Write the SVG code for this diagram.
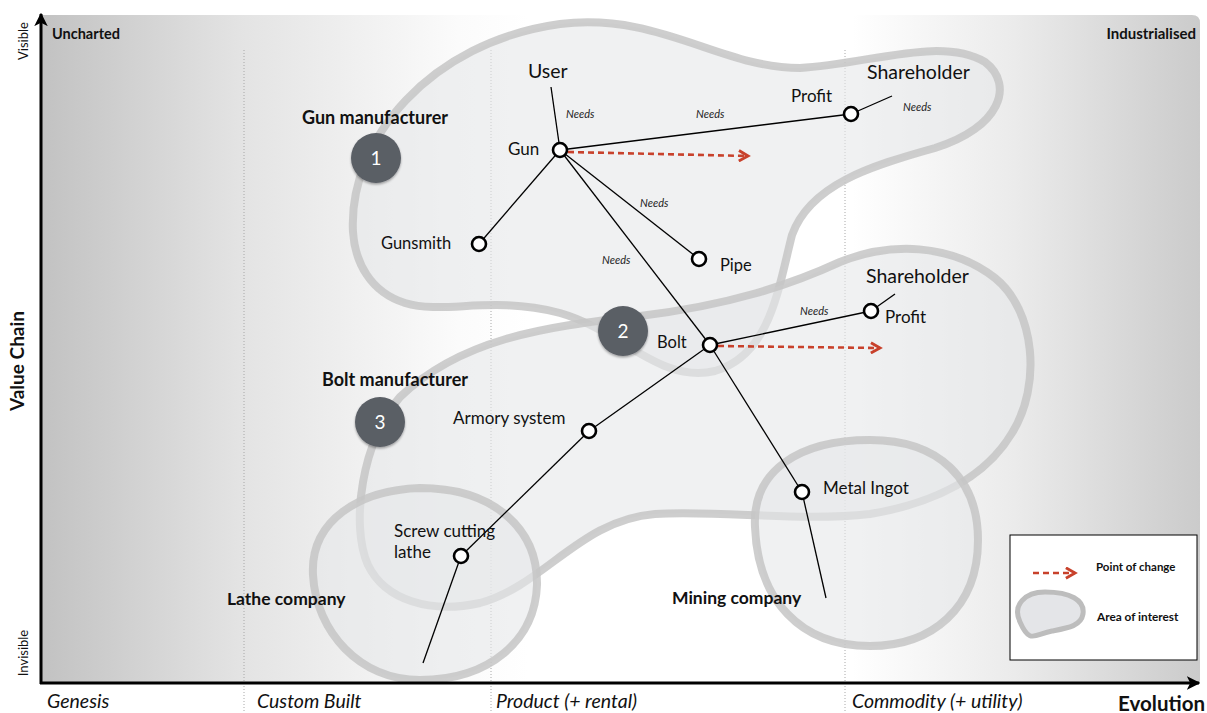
<svg xmlns="http://www.w3.org/2000/svg" width="1207" height="713" viewBox="0 0 1207 713">
<defs>
<linearGradient id="bg" x1="41" y1="0" x2="1200" y2="0" gradientUnits="userSpaceOnUse">
<stop offset="0" stop-color="#c2c2c2"/>
<stop offset="0.17" stop-color="#e3e3e3"/>
<stop offset="0.36" stop-color="#fbfbfb"/>
<stop offset="0.42" stop-color="#ffffff"/>
<stop offset="0.70" stop-color="#ffffff"/>
<stop offset="0.84" stop-color="#ebebeb"/>
<stop offset="1" stop-color="#cbcbcb"/>
</linearGradient>
<marker id="redhead" viewBox="0 0 10 10" refX="8" refY="5" markerWidth="5" markerHeight="5" orient="auto" markerUnits="strokeWidth">
<path d="M1,1 L8,5 L1,9" fill="none" stroke="#c8412b" stroke-width="2.2"/>
</marker>
<marker id="axhead" viewBox="0 0 10 10" refX="9" refY="5" markerWidth="4.5" markerHeight="4.5" orient="auto" markerUnits="strokeWidth">
<path d="M0,0 L10,5 L0,10 L2.5,5 Z" fill="#000"/>
</marker>
<filter id="sh" x="-30%" y="-30%" width="160%" height="160%">
<feDropShadow dx="0" dy="1.5" stdDeviation="1.2" flood-color="#000" flood-opacity="0.35"/>
</filter>
</defs>
<style>
.blob{fill:#e6e7ea;fill-opacity:0.6;stroke:#c6c6c6;stroke-opacity:0.85;stroke-width:8}
.dot{stroke:#a8a8a8;stroke-width:1;stroke-dasharray:1 2}
.ln{stroke:#000;stroke-width:1.3;fill:none}
.nd{fill:#fff;stroke:#000;stroke-width:2.6}
.chg{stroke:#c8412b;stroke-width:2.6;stroke-dasharray:6 4;fill:none}
.t{font-family:Lato,"Liberation Sans",sans-serif;fill:#111}
.b{font-family:Lato,"Liberation Sans",sans-serif;font-weight:bold;fill:#111}
.n{font-family:Lato,"Liberation Sans",sans-serif;font-style:italic;font-size:11px;fill:#222}
.ax{font-family:Lato,"Liberation Sans",sans-serif;font-style:italic;font-size:19.5px;fill:#111}
.badge{fill:#5a5e65;filter:url(#sh)}
.bt{font-family:Lato,"Liberation Sans",sans-serif;font-size:19px;fill:#fff;text-anchor:middle}
</style>

<g id="background">
<path d="M41,15 H1192 Q1200,15 1200,23 V683 H41 Z" fill="url(#bg)"/>
<line class="dot" x1="244" y1="50" x2="244" y2="713"/>
<line class="dot" x1="491" y1="50" x2="491" y2="713"/>
<line class="dot" x1="845" y1="50" x2="845" y2="713"/>
</g>

<g id="areas">
<path id="area-gun" class="blob" d="M353,232 C348,140 430,42 560,24 C660,12 720,68 800,68 C870,64 940,36 985,62 C1015,85 1000,128 935,148 C870,166 810,185 792,235 C778,290 770,355 715,371 C660,384 620,330 560,313 C490,295 445,315 405,303 C370,292 355,262 353,232 Z"/>
<path id="area-bolt" class="blob" d="M400,397 C460,340 540,327 640,316 C730,305 790,285 840,262 C890,242 950,243 995,278 C1035,310 1042,385 1012,433 C985,478 935,503 870,514 C800,522 720,510 655,514 C580,520 545,585 480,603 C430,614 385,600 368,565 C350,525 362,440 400,397 Z"/>
<path id="area-lathe" class="blob" d="M313,575 C310,520 360,490 420,488 C495,488 538,530 537,585 C535,640 490,680 420,680 C360,680 316,632 313,575 Z"/>
<path id="area-mining" class="blob" d="M755,527 C752,470 800,440 870,440 C940,440 978,480 978,540 C978,608 932,646 870,646 C800,646 758,600 755,527 Z"/>
</g>

<g id="axes">
<line x1="41" y1="684" x2="41" y2="14" stroke="#000" stroke-width="3" marker-end="url(#axhead)"/>
<line x1="40" y1="683" x2="1199" y2="683" stroke="#000" stroke-width="3" marker-end="url(#axhead)"/>
<text class="b" x="52" y="39" font-size="14.5">Uncharted</text>
<text class="b" x="1196" y="39" font-size="15" text-anchor="end">Industrialised</text>
<text class="t" font-size="13" transform="translate(28,41) rotate(-90)" text-anchor="middle">Visible</text>
<text class="t" font-size="13" transform="translate(28,653) rotate(-90)" text-anchor="middle">Invisible</text>
<text class="b" font-size="19" transform="translate(24,361) rotate(-90)" text-anchor="middle">Value Chain</text>
<text class="ax" x="47" y="708" font-size="18.5">Genesis</text>
<text class="ax" x="257" y="708" font-size="19">Custom Built</text>
<text class="ax" x="496" y="708">Product (+ rental)</text>
<text class="ax" x="852" y="708">Commodity (+ utility)</text>
<text class="b" x="1205" y="711" font-size="20.5" text-anchor="end">Evolution</text>
</g>

<g id="connectors">
<line class="ln" x1="551" y1="87" x2="560" y2="150"/>
<line class="ln" x1="560" y1="150" x2="851" y2="114"/>
<line class="ln" x1="851" y1="114" x2="892" y2="96"/>
<line class="ln" x1="560" y1="150" x2="479" y2="244"/>
<line class="ln" x1="560" y1="150" x2="699" y2="259"/>
<line class="ln" x1="560" y1="150" x2="710" y2="345"/>
<line class="ln" x1="710" y1="345" x2="871" y2="311"/>
<line class="ln" x1="871" y1="311" x2="895" y2="294"/>
<line class="ln" x1="710" y1="345" x2="589" y2="431"/>
<line class="ln" x1="589" y1="431" x2="461" y2="556"/>
<line class="ln" x1="461" y1="556" x2="423" y2="663"/>
<line class="ln" x1="710" y1="345" x2="802" y2="492"/>
<line class="ln" x1="802" y1="492" x2="826" y2="598"/>
<line class="chg" x1="568" y1="152" x2="748" y2="156" marker-end="url(#redhead)"/>
<line class="chg" x1="718" y1="346" x2="880" y2="348" marker-end="url(#redhead)"/>
<text class="n" x="566" y="118">Needs</text>
<text class="n" x="696" y="118">Needs</text>
<text class="n" x="903" y="111">Needs</text>
<text class="n" x="640" y="207">Needs</text>
<text class="n" x="602" y="264">Needs</text>
<text class="n" x="800" y="315">Needs</text>
</g>

<g id="labels">
<text class="b" x="302" y="124" font-size="18">Gun manufacturer</text>
<text class="b" x="322" y="386" font-size="18">Bolt manufacturer</text>
<text class="b" x="227" y="605" font-size="17.5">Lathe company</text>
<text class="b" x="672" y="604" font-size="17.5">Mining company</text>
</g>

<g id="badge-1"><circle class="badge" cx="376" cy="158" r="25"/><text class="bt" x="376" y="165">1</text></g>
<g id="badge-2"><circle class="badge" cx="623" cy="331" r="25"/><text class="bt" x="623" y="338">2</text></g>
<g id="badge-3"><circle class="badge" cx="380" cy="422" r="25"/><text class="bt" x="380" y="429">3</text></g>

<g id="node-user"><text class="t" x="528" y="78" font-size="19.5">User</text></g>
<g id="node-shareholder1"><text class="t" x="867" y="79" font-size="19.5">Shareholder</text></g>
<g id="node-gun"><circle class="nd" cx="560" cy="150" r="7"/><text class="t" x="508" y="155" font-size="17">Gun</text></g>
<g id="node-profit1"><circle class="nd" cx="851" cy="114" r="7"/><text class="t" x="791" y="102" font-size="17">Profit</text></g>
<g id="node-gunsmith"><circle class="nd" cx="479" cy="244" r="7"/><text class="t" x="381" y="249" font-size="16.5">Gunsmith</text></g>
<g id="node-pipe"><circle class="nd" cx="699" cy="259" r="7"/><text class="t" x="720" y="271" font-size="16.5">Pipe</text></g>
<g id="node-bolt"><circle class="nd" cx="710" cy="345" r="7"/><text class="t" x="657" y="348" font-size="16.5">Bolt</text></g>
<g id="node-shareholder2"><text class="t" x="866" y="283" font-size="19.5">Shareholder</text></g>
<g id="node-profit2"><circle class="nd" cx="871" cy="311" r="7"/><text class="t" x="885" y="323" font-size="17">Profit</text></g>
<g id="node-armory"><circle class="nd" cx="589" cy="431" r="7"/><text class="t" x="453" y="424" font-size="17">Armory system</text></g>
<g id="node-ingot"><circle class="nd" cx="802" cy="492" r="7"/><text class="t" x="823" y="494" font-size="17">Metal Ingot</text></g>
<g id="node-lathe"><circle class="nd" cx="461" cy="556" r="7"/><text class="t" x="394" y="537" font-size="17">Screw cutting</text><text class="t" x="394" y="558" font-size="17">lathe</text></g>

<g id="legend">
<rect x="1010" y="535" width="187" height="125" fill="#fff" stroke="#000" stroke-width="1"/>
<line class="chg" x1="1033" y1="573" x2="1075" y2="573" marker-end="url(#redhead)"/>
<text class="b" x="1096" y="571" font-size="11.5">Point of change</text>
<path d="M1020,622 C1012,605 1025,592 1045,592 C1070,592 1085,600 1083,614 C1081,626 1068,628 1052,631 C1035,634 1030,645 1020,622 Z" fill="#e4e5e8" stroke="#bdbdbd" stroke-width="5"/>
<text class="b" x="1097" y="621" font-size="11.8">Area of interest</text>
</g>
</svg>
